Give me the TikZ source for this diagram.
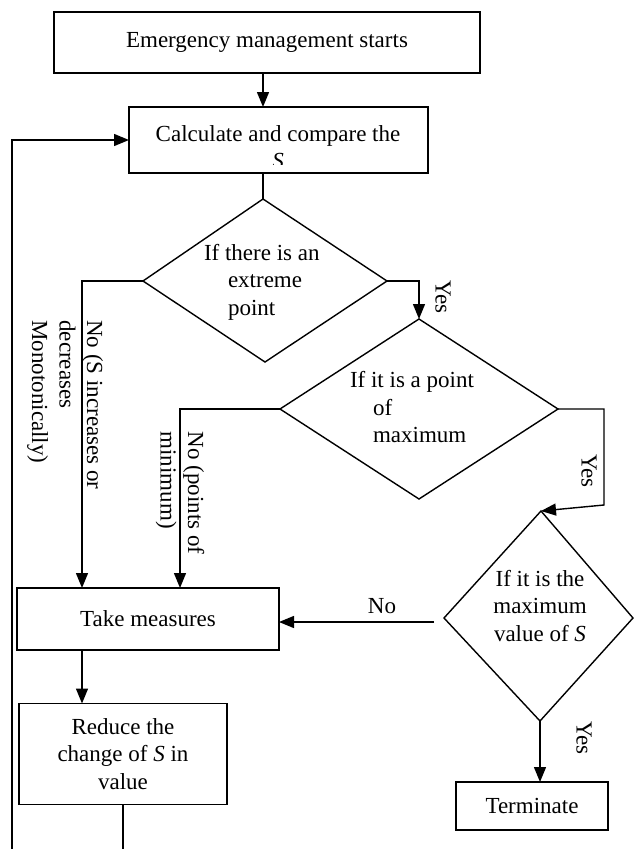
\documentclass[tikz,border=0pt]{standalone}
\usepackage{fontspec}
\setmainfont{Liberation Serif}
\usetikzlibrary{arrows.meta}
\begin{document}
\begin{tikzpicture}[x=1pt,y=-1pt,
  every node/.style={font=\fontsize{23}{27.5}\selectfont, inner sep=0pt, outer sep=0pt},
  box/.style={draw, line width=1.4pt, rectangle, align=center},
  ln/.style={line width=1.4pt},
  arr/.style={line width=1.4pt, -{Triangle[length=15pt,width=12pt]}},
  lbl/.style={rotate=-90}]
\useasboundingbox (0,0) rectangle (634,849);
% boxes
\node[box, minimum width=426pt, minimum height=61pt] (b1) at (267,42.5) {Emergency management starts};
\node[box, minimum width=299pt, minimum height=66pt] (b2) at (278.5,140) {};
\begin{scope}
\clip (129,107) rectangle (428,164);
\node[align=center] (b2t) at (278,147) {Calculate and compare the\\\textit{S}};
\end{scope}
\node[box, minimum width=262pt, minimum height=62pt] (tm) at (148,619) {Take measures};
\node[box, minimum width=208pt, minimum height=101pt] (rd) at (123,754) {Reduce the\\change of \textit{S} in\\value};
\node[box, minimum width=152pt, minimum height=48pt] (term) at (532,806) {Terminate};
% diamonds
\coordinate (d1t) at (263,199);
\coordinate (d1r) at (387,281);
\coordinate (d1b) at (265,362);
\coordinate (d1l) at (143,281);
\draw[ln, line join=miter] (d1t) -- (d1r) -- (d1b) -- (d1l) -- cycle;
\node[align=left, anchor=west] (d1txt) at (204,282) {If there is an\\\hspace*{24pt}extreme\\\hspace*{24pt}point};
\coordinate (d2t) at (419,319);
\coordinate (d2r) at (558,409);
\coordinate (d2b) at (419,499);
\coordinate (d2l) at (280,409);
\draw[ln, line join=miter] (d2t) -- (d2r) -- (d2b) -- (d2l) -- cycle;
\node[align=left, anchor=west] (d2txt) at (350,407.5) {If it is a point\\\hspace*{23pt}of\\\hspace*{23pt}maximum};
\coordinate (d3t) at (541,511);
\coordinate (d3r) at (633,618);
\coordinate (d3b) at (540,721);
\coordinate (d3l) at (444,618);
\draw[ln, line join=miter] (d3t) -- (d3r) -- (d3b) -- (d3l) -- cycle;
\node[align=center] (d3txt) at (540,606) {If it is the\\maximum\\value of \textit{S}};
% helper coordinates
\coordinate (n1) at (82,281);
\coordinate (n2) at (180,409);
\coordinate (y1) at (604,505);
\coordinate (nst) at (434,622);
\coordinate (loopbot) at (12,849);
\coordinate (rdbot) at (123,849);
% connectors
\draw[arr] (b1.south -| d1t) -- (b2.north -| d1t);
\draw[ln] (b2.south -| d1t) -- (d1t);
\draw[arr] (loopbot) |- (b2.west);
\draw[arr] (d1l) -- (n1) -- (n1 |- tm.north);
\draw[arr] (d1r) -| (d2t);
\draw[arr] (d2l) -- (n2) -- (n2 |- tm.north);
\draw[arr] (d2r) -| (y1) -- (d3t);
\draw[arr] (nst) -- (nst -| tm.east);
\draw[arr] (d3b) -- (d3b |- term.north);
\draw[arr] (tm.south -| n1) -- (rd.north -| n1);
\draw[ln] (rd.south) -- (rdbot);
% labels
\node[lbl] (yes1) at (443,297) {Yes};
\node[lbl] (yes2) at (589,471) {Yes};
\node[lbl] (yes3) at (584,738) {Yes};
\node (no3) at (382,606) {No};
\node[lbl, align=left] (no1) at (65,405) {No (S increases or\\decreases\\Monotonically)};
\node[lbl, align=left] (no2) at (180,493) {No (points of\\minimum)};
\end{tikzpicture}
\end{document}
